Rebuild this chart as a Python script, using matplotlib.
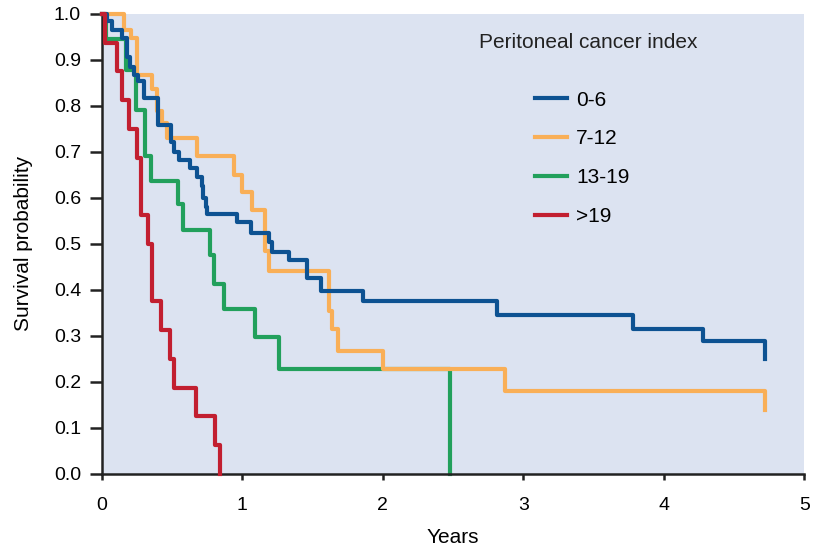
import matplotlib.pyplot as plt

plt.rcParams['font.family'] = ['Liberation Sans', 'DejaVu Sans']

# Kaplan-Meier step data (years, survival probability)
t_0_6 = [0, 0.04, 0.07, 0.14, 0.18, 0.20, 0.23, 0.26, 0.30, 0.40, 0.49, 0.51, 0.55,
         0.63, 0.68, 0.71, 0.72, 0.74, 0.75, 0.96, 1.06, 1.19, 1.21, 1.33, 1.46,
         1.56, 1.855, 2.81, 3.78, 4.28, 4.72]
s_0_6 = [1.0, 0.985, 0.965, 0.947, 0.907, 0.885, 0.867, 0.853, 0.817, 0.759, 0.722,
         0.70, 0.683, 0.665, 0.646, 0.625, 0.60, 0.58, 0.565, 0.548, 0.523, 0.505,
         0.483, 0.464, 0.425, 0.398, 0.375, 0.346, 0.315, 0.288, 0.249]

t_7_12 = [0, 0.16, 0.21, 0.25, 0.36, 0.395, 0.43, 0.46, 0.68, 0.94, 1.0, 1.07, 1.16,
          1.19, 1.62, 1.64, 1.68, 2.0, 2.87, 4.72]
s_7_12 = [1.0, 0.965, 0.947, 0.866, 0.837, 0.788, 0.762, 0.731, 0.69, 0.65, 0.612,
          0.574, 0.485, 0.44, 0.353, 0.315, 0.268, 0.228, 0.18, 0.139]

t_13_19 = [0, 0.03, 0.17, 0.245, 0.31, 0.35, 0.54, 0.58, 0.77, 0.795, 0.866, 1.088,
           1.26, 2.48]
s_13_19 = [1.0, 0.945, 0.877, 0.79, 0.69, 0.637, 0.587, 0.53, 0.475, 0.413, 0.358,
           0.298, 0.228, 0.0]

t_19 = [0, 0.02, 0.105, 0.14, 0.195, 0.248, 0.275, 0.325, 0.355, 0.42, 0.488, 0.51,
        0.67, 0.807, 0.843]
s_19 = [1.0, 0.9375, 0.875, 0.8125, 0.75, 0.6875, 0.5625, 0.5, 0.375, 0.3125, 0.25,
        0.1875, 0.125, 0.0625, 0.0]

labels = ['0-6', '7-12', '13-19', '>19']
colors = ['#0d5292', '#f9af57', '#22a05c', '#c21f30']

fig = plt.figure(figsize=(8.15, 5.51), dpi=100)
ax = fig.add_axes([0.125, 0.14, 0.862, 0.835])
ax.set_facecolor('#dce3f1')

ax.step(t_0_6, s_0_6, where='post', color=colors[0], lw=3, label=labels[0],
        clip_on=False, zorder=4)
ax.step(t_7_12, s_7_12, where='post', color=colors[1], lw=3, label=labels[1],
        clip_on=False, zorder=3)
ax.step(t_13_19, s_13_19, where='post', color=colors[2], lw=3, label=labels[2],
        clip_on=False, zorder=2)
ax.step(t_19, s_19, where='post', color=colors[3], lw=3, label=labels[3],
        clip_on=False, zorder=5)

ax.set_xlim(0, 5)
ax.set_ylim(0, 1)
ax.set_xticks([0, 1, 2, 3, 4, 5])
ax.set_yticks([i / 10 for i in range(11)])
ax.set_yticklabels(['%.1f' % (i / 10) for i in range(11)])

for s in ['top', 'right']:
    ax.spines[s].set_visible(False)
for s in ['left', 'bottom']:
    ax.spines[s].set_linewidth(1.8)
    ax.spines[s].set_color('#222222')

ax.tick_params(axis='y', length=9, width=1.8, pad=6, labelsize=14, color='#222222')
ax.tick_params(axis='x', length=4, width=1.8, pad=13, labelsize=14, color='#222222')

ax.set_xlabel('Years', fontsize=15, labelpad=10)
ax.set_ylabel('Survival probability', fontsize=15, labelpad=15)

ax.text(0.692, 0.938, 'Peritoneal cancer index', transform=ax.transAxes,
        ha='center', va='center', fontsize=15, color='#222222')
ax.legend(loc='upper left', bbox_to_anchor=(0.617, 0.833), frameon=False,
          fontsize=15, handlelength=1.5, handletextpad=0.45, labelspacing=0.95,
          borderpad=0, borderaxespad=0)

fig.savefig('out.png', dpi=100)
